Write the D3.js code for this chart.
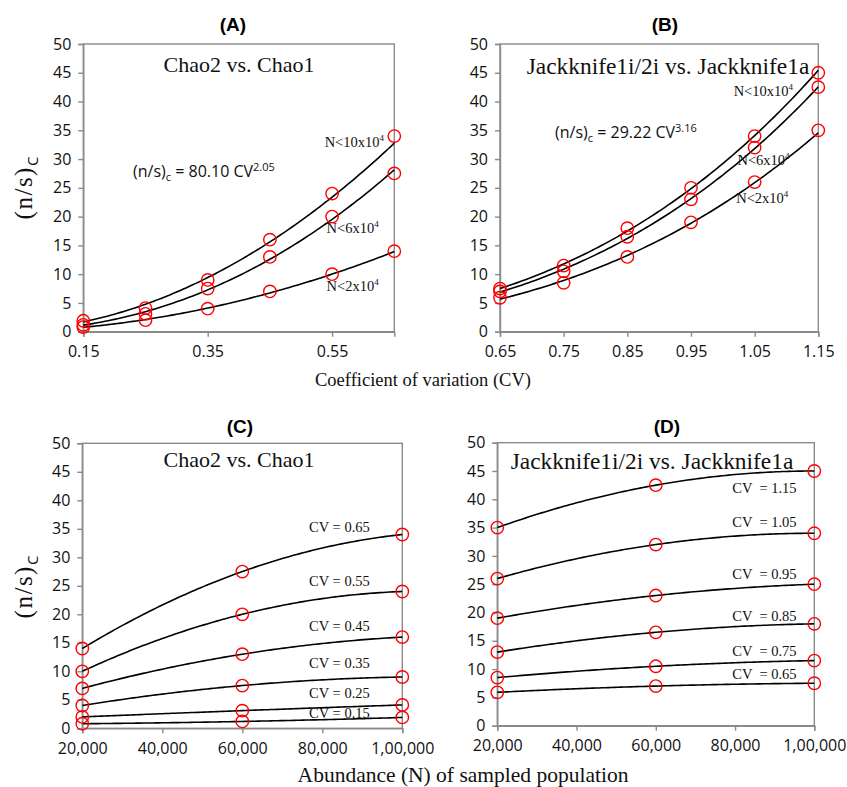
<!DOCTYPE html>
<html>
<head>
<meta charset="utf-8">
<script src="https://cdn.jsdelivr.net/npm/d3@7"></script>
<style>
  html, body { margin: 0; padding: 0; background: #fff; }
  svg { display: block; }
</style>
</head>
<body>
<svg id="chart" width="847" height="787"></svg>
<script>
// ---------------- DATA ----------------
const cvChao = [0.15, 0.25, 0.35, 0.45, 0.55, 0.65];
const chaoN10 = [1.9, 4.1, 9.0, 16.0, 24.0, 34.0];
const chaoN6  = [1.2, 3.1, 7.5, 13.0, 20.0, 27.5];
const chaoN2  = [0.8, 2.0, 4.0, 7.0, 10.0, 14.0];

const cvJack = [0.65, 0.75, 0.85, 0.95, 1.05, 1.15];
const jackN10 = [7.5, 11.5, 18.0, 25.0, 34.0, 45.0];
const jackN6  = [7.0, 10.5, 16.5, 23.0, 32.0, 42.5];
const jackN2  = [5.9, 8.5, 13.0, 19.0, 26.0, 35.0];

const seriesNames = ["N<10x10", "N<6x10", "N<2x10"];
const abundance = [20000, 60000, 100000];
const abundanceTicks = [20000, 40000, 60000, 80000, 100000];
const abundanceTickLabels = ["20,000", "40,000", "60,000", "80,000", "1,00,000"];
const yTicks = [0, 5, 10, 15, 20, 25, 30, 35, 40, 45, 50];
const chaoXTicks = [0.15, 0.35, 0.55];
const jackXTicks = [0.65, 0.75, 0.85, 0.95, 1.05, 1.15];

// ---------------- HELPERS ----------------
const svg = d3.select("#chart");
svg.append("rect").attr("width", 847).attr("height", 787).attr("fill", "#fff");

const GREY = "#8a8a8a";
const SERIF = "'Liberation Serif', 'Times New Roman', serif";
const SANS = "'Open Sans', 'Noto Sans', sans-serif";

function powerFit(xs, ys) {
  const lx = xs.map(Math.log), ly = ys.map(Math.log);
  const n = xs.length;
  const mx = d3.mean(lx), my = d3.mean(ly);
  let sxy = 0, sxx = 0;
  for (let i = 0; i < n; i++) { sxy += (lx[i]-mx)*(ly[i]-my); sxx += (lx[i]-mx)*(lx[i]-mx); }
  const b = sxy / sxx;
  const a = Math.exp(my - b*mx);
  return x => a * Math.pow(x, b);
}
function quadFit(xs, ys) {
  // quadratic through three points (Excel polynomial order 2 trendline)
  const [x0,x1,x2] = xs, [y0,y1,y2] = ys;
  return x => y0*((x-x1)*(x-x2))/((x0-x1)*(x0-x2))
            + y1*((x-x0)*(x-x2))/((x1-x0)*(x1-x2))
            + y2*((x-x0)*(x-x1))/((x2-x0)*(x2-x1));
}

function panel(cfg) {
  const g = svg.append("g");
  const x = d3.scaleLinear().domain(cfg.xDomain).range([cfg.left, cfg.right]);
  const y = d3.scaleLinear().domain([0, 50]).range([cfg.bottom, cfg.top]);

  // frame
  g.append("rect")
    .attr("x", cfg.left).attr("y", cfg.top)
    .attr("width", cfg.right - cfg.left).attr("height", cfg.bottom - cfg.top)
    .attr("fill", "none").attr("stroke", GREY).attr("stroke-width", 1.4);

  // axes
  const xAxis = d3.axisBottom(x).tickValues(cfg.xTicks).tickSize(5).tickPadding(9)
    .tickFormat(cfg.xFormat);
  const gx = g.append("g").attr("transform", `translate(0,${cfg.bottom})`).call(xAxis);
  const yAxis = d3.axisLeft(y).tickValues(yTicks).tickSize(5).tickPadding(7);
  const gy = g.append("g").attr("transform", `translate(${cfg.left},0)`).call(yAxis);
  [gx, gy].forEach(a => {
    a.select(".domain").attr("stroke", GREY).attr("stroke-width", 1.4);
    a.selectAll(".tick line").attr("stroke", GREY).attr("stroke-width", 1.4);
    a.selectAll(".tick text").attr("font-family", SANS).attr("font-size", 16).attr("fill", "#111");
  });

  // trend lines
  const line = d3.line().x(d => x(d[0])).y(d => y(d[1]));
  cfg.series.forEach(s => {
    const f = cfg.fit(cfg.xs, s.values);
    const [x0, x1] = d3.extent(cfg.xs);
    const pts = d3.range(0, 101).map(i => { const xv = x0 + (x1 - x0) * i / 100; return [xv, f(xv)]; });
    g.append("path").attr("d", line(pts)).attr("fill", "none")
      .attr("stroke", "#000").attr("stroke-width", 1.6);
  });

  // points
  cfg.series.forEach(s => {
    g.selectAll(null).data(s.values.map((v, i) => [cfg.xs[i], v])).enter()
      .append("circle")
      .attr("cx", d => x(d[0])).attr("cy", d => y(d[1])).attr("r", 6.2)
      .attr("fill", "none").attr("stroke", "#ff0000").attr("stroke-width", 1.4);
  });

  // series labels
  cfg.series.forEach(s => {
    const t = g.append("text")
      .attr("x", x(s.label[0])).attr("y", y(s.label[1]))
      .attr("font-family", SERIF).attr("font-size", 14.5).attr("fill", "#111");
    if (s.sup) {
      t.append("tspan").text(s.name);
      t.append("tspan").text(s.sup).attr("font-size", 9).attr("dy", -6);
    } else {
      t.text(s.name).attr("xml:space", "preserve");
    }
  });

  // panel letter
  g.append("text").attr("x", cfg.letterX).attr("y", cfg.letterY)
    .attr("text-anchor", "middle").attr("font-family", "'Liberation Sans', Arial, sans-serif")
    .attr("font-weight", "bold").attr("font-size", 19).text(cfg.letter);

  // inner title
  g.append("text").attr("x", cfg.titleX).attr("y", cfg.titleY)
    .attr("text-anchor", "middle").attr("font-family", SERIF)
    .attr("font-size", cfg.titleSize).attr("fill", "#111").text(cfg.title);

  // equation
  if (cfg.eq) {
    const e = g.append("text").attr("x", cfg.eq.x).attr("y", cfg.eq.y)
      .attr("font-family", SANS).attr("font-size", 16).attr("fill", "#111");
    e.append("tspan").text("(n/s)");
    e.append("tspan").text("c").attr("font-size", 11).attr("dy", 4);
    e.append("tspan").text(" = " + cfg.eq.coef + " CV").attr("dy", -4);
    e.append("tspan").text(cfg.eq.exp).attr("font-size", 11).attr("dy", -6);
  }

  // y title
  if (cfg.yTitle) {
    const t = g.append("text")
      .attr("transform", `translate(${cfg.yTitle[0]},${cfg.yTitle[1]}) rotate(-90)`)
      .attr("text-anchor", "middle").attr("fill", "#111");
    t.append("tspan").text("(n/s)").attr("font-family", SERIF).attr("font-size", 25)
      .attr("letter-spacing", 1.5);
    t.append("tspan").text("C").attr("font-family", SANS).attr("font-size", 15).attr("dy", 6);
  }
}

// ---------------- PANELS ----------------
panel({
  letter: "(A)", letterX: 233, letterY: 31,
  left: 83.3, right: 394.3, top: 44, bottom: 331.7,
  xDomain: [0.15, 0.65], xTicks: chaoXTicks, xFormat: d3.format(".2f"),
  xs: cvChao, fit: powerFit,
  series: [
    { name: seriesNames[0], sup: "4", values: chaoN10, label: [0.538, 32.1] },
    { name: seriesNames[1], sup: "4", values: chaoN6,  label: [0.541, 17.1] },
    { name: seriesNames[2], sup: "4", values: chaoN2,  label: [0.541, 7.1] }
  ],
  title: "Chao2 vs. Chao1", titleX: 239, titleY: 72, titleSize: 22,
  eq: { x: 133, y: 177, coef: "80.10", exp: "2.05" },
  yTitle: [32, 188]
});

panel({
  letter: "(B)", letterX: 665, letterY: 31,
  left: 500, right: 818.3, top: 44, bottom: 331.7,
  xDomain: [0.65, 1.15], xTicks: jackXTicks, xFormat: d3.format(".2f"),
  xs: cvJack, fit: powerFit,
  series: [
    { name: seriesNames[0], sup: "4", values: jackN10, label: [1.017, 41.0] },
    { name: seriesNames[1], sup: "4", values: jackN6,  label: [1.023, 29.0] },
    { name: seriesNames[2], sup: "4", values: jackN2,  label: [1.021, 22.4] }
  ],
  title: "Jackknife1i/2i vs. Jackknife1a", titleX: 668, titleY: 74, titleSize: 23.4,
  eq: { x: 555, y: 138, coef: "29.22", exp: "3.16" }
});

// Panels C and D: same values, arranged by CV (rows) across abundance (columns)
const chaoByN = [chaoN2, chaoN6, chaoN10];
const jackByN = [jackN2, jackN6, jackN10];
const labelYC = [1.8, 5.3, 10.6, 17.1, 25.0, 34.4];
const labelYD = [8.25, 12.3, 18.5, 25.9, 35.1, 41.1];

panel({
  letter: "(C)", letterX: 240, letterY: 433,
  left: 82.3, right: 402.3, top: 443.3, bottom: 728.3,
  xDomain: [20000, 100000], xTicks: abundanceTicks,
  xFormat: (d, i) => abundanceTickLabels[i],
  xs: abundance, fit: quadFit,
  series: cvChao.map((cv, i) => ({
    name: "CV = " + cv.toFixed(2),
    values: chaoByN.map(s => s[i]),
    label: [76700, labelYC[i]]
  })),
  title: "Chao2 vs. Chao1", titleX: 239, titleY: 467, titleSize: 22,
  yTitle: [32, 587]
});

panel({
  letter: "(D)", letterX: 667, letterY: 433,
  left: 497.3, right: 814.3, top: 442.7, bottom: 725.7,
  xDomain: [20000, 100000], xTicks: abundanceTicks,
  xFormat: (d, i) => abundanceTickLabels[i],
  xs: abundance, fit: quadFit,
  series: cvJack.map((cv, i) => ({
    name: "CV  = " + cv.toFixed(2),
    values: jackByN.map(s => s[i]),
    label: [79300, labelYD[i]]
  })),
  title: "Jackknife1i/2i vs. Jackknife1a", titleX: 652, titleY: 469, titleSize: 23.4
});

// shared x titles
svg.append("text").attr("x", 423).attr("y", 386).attr("text-anchor", "middle")
  .attr("font-family", SERIF).attr("font-size", 18.5).attr("fill", "#111")
  .text("Coefficient of variation (CV)");
svg.append("text").attr("x", 463).attr("y", 782).attr("text-anchor", "middle")
  .attr("font-family", SERIF).attr("font-size", 21.5).attr("fill", "#111")
  .text("Abundance (N) of sampled population");
</script>
</body>
</html>
